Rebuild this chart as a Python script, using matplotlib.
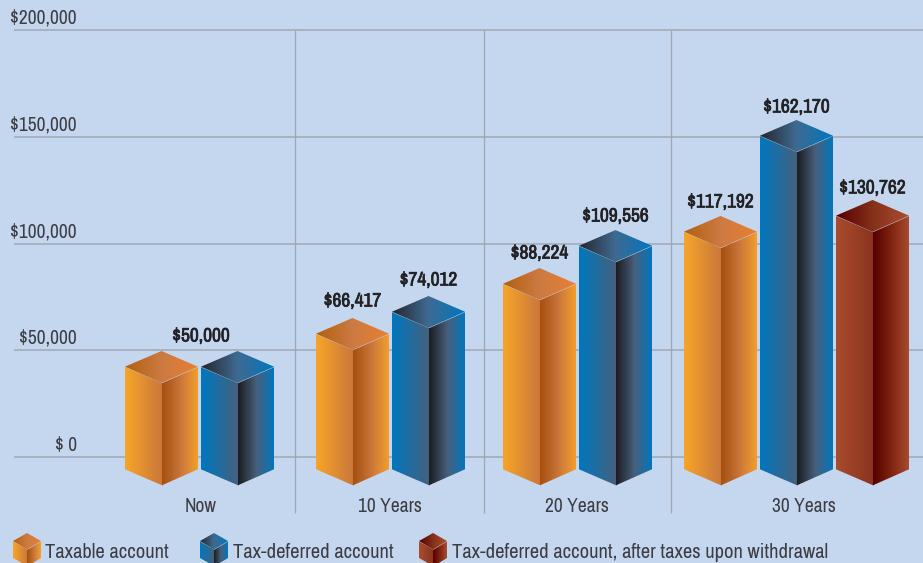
import matplotlib
matplotlib.use("Agg")
import matplotlib.pyplot as plt
import matplotlib.patheffects as pe
import numpy as np
from matplotlib.colors import LinearSegmentedColormap
from matplotlib.patches import Polygon

plt.rcParams['font.family'] = ['Archivo Narrow', 'Roboto Condensed', 'Liberation Sans', 'DejaVu Sans']

# data
categories = ["Now", "10 Years", "20 Years", "30 Years"]
taxable = [50000, 66417, 88224, 117192]
deferred = [50000, 74012, 109556, 162170]
after_tax = [None, None, None, 130762]
# drawn height of the bars in the picture, they do not follow the labels exactly
taxable_top = [49650, 65100, 88500, 112900]
deferred_top = [49650, 75400, 106300, 157850]
after_tax_top = [None, None, None, 120400]
y_ticks = [0, 50000, 100000, 150000, 200000]
y_tick_labels = ["$ 0", "$50,000", "$100,000", "$150,000", "$200,000"]
legend_labels = ["Taxable account", "Tax-deferred account", "Tax-deferred account, after taxes upon withdrawal"]

# layout, x in pixels
per_px = 200000 / 427
group_left = [125, 316, 503, 684]
group_label_x = [201, 390, 577, 804]
separators = [295, 484, 671]
bar_w = 73
bar_step = 76
depth = 16.2 * per_px
# gap between bar top and its label, in pixels
label_gap = [[15, 17, 15, 14], [15, 16, 14, 13], [0, 0, 0, 12]]

orange = {"left": ["#F7A528", "#C9763C"], "right": ["#A64F0E", "#C9763C", "#F5A02A"], "top": ["#B2600F", "#CC7A42", "#E88032"]}
blue = {"left": ["#0077BE", "#47607C"], "right": ["#1C1C20", "#47607C", "#0077BE"], "top": ["#25262C", "#3F6A92", "#0077BE"]}
brown = {"left": ["#A94C2E", "#8A3320"], "right": ["#560000", "#7E2410", "#AB4E30"], "top": ["#560000", "#84301A", "#AB4E30"]}

fig = plt.figure(figsize=(9.23, 5.63), dpi=100, facecolor="#C5D7EF")
ax = fig.add_axes([0, 0, 1, 1])
ax.set_facecolor("#C5D7EF")
ax.axis("off")
y_low = (457 - 563) * per_px
y_high = 457 * per_px
ax.set_xlim(0, 923)
ax.set_ylim(y_low, y_high)


def face(points, stops, x0, x1):
    # horizontal gradient clipped to the face
    cmap = LinearSegmentedColormap.from_list("g", stops)
    ys = [p[1] for p in points]
    im = ax.imshow(np.linspace(0, 1, 128).reshape(1, -1), cmap=cmap, aspect="auto", zorder=3,
                   extent=[x0, x1, min(ys), max(ys)], interpolation="bilinear")
    clip = Polygon(points, closed=True, transform=ax.transData)
    im.set_clip_path(clip)


def box(x, w, top, bottom, d, colors):
    mid = x + w / 2
    right = x + w
    bleed = 1.0  # faces overlap a little, no seam between them
    b = bleed * per_px
    face([(x, top - d), (mid + bleed, top - 2 * d), (mid + bleed, bottom - 2 * d), (x, bottom - d)], colors["left"], x, mid + bleed)
    face([(mid, top - 2 * d), (right, top - d), (right, bottom - d), (mid, bottom - 2 * d)], colors["right"], mid, right)
    face([(x, top - d + b / 2), (mid, top), (right, top - d + b / 2), (mid, top - 2 * d + b / 2)], colors["top"], x, right)


# grid
ax.hlines(y_ticks, 14, 923, color="#A0A7B2", lw=1.1, zorder=1)
ax.vlines(separators, (457 - 513) * per_px, 200000, color="#A0A7B2", lw=0.95, zorder=1)
for v, t in zip(y_ticks, y_tick_labels):
    ax.annotate(t, (77, v), xytext=(0, 8.5), textcoords="offset points", ha="right", va="center",
                fontsize=14, color="#3C3D44")

# bars, front bottom corner sits below the zero line
bar_bottom = -28.5 * per_px + 2 * depth
series = [(taxable, taxable_top, orange), (deferred, deferred_top, blue), (after_tax, after_tax_top, brown)]
for s, (vals, tops, colors) in enumerate(series):
    for g in range(len(categories)):
        if tops[g] is None:
            continue
        x = group_left[g] + s * bar_step
        box(x, bar_w, tops[g], bar_bottom, depth, colors)
        if g == 0 and s == 1:
            continue  # both bars share one label
        lx = x + bar_w / 2
        if g == 0:
            lx = group_label_x[0]
        txt = ax.annotate(f"${vals[g]:,}", (lx, tops[g]), xytext=(0, label_gap[s][g] * 0.72), textcoords="offset points",
                          ha="center", va="center", fontsize=14, fontweight="bold", color="#222226")
        txt.set_path_effects([pe.withStroke(linewidth=0.5, foreground="#222226")])

for x, c in zip(group_label_x, categories):
    ax.text(x, (457 - 507) * per_px, c, ha="center", va="center", fontsize=14, color="#3C3D44")

# legend with small boxes, cut off by the bottom edge
legend_x = [13, 200, 419]
legend_text_x = [45, 233, 452]
legend_d = 8.5 * per_px
for lx, tx, t, colors in zip(legend_x, legend_text_x, legend_labels, [orange, blue, brown]):
    box(lx, 28, (457 - 533) * per_px, (457 - 549.5) * per_px, legend_d, colors)
    ax.text(tx, (457 - 552.5) * per_px, t, ha="left", va="center", fontsize=14.8, color="#3C3D44")

ax.set_xlim(0, 923)
ax.set_ylim(y_low, y_high)
fig.savefig("out.png", dpi=100, facecolor=fig.get_facecolor())
